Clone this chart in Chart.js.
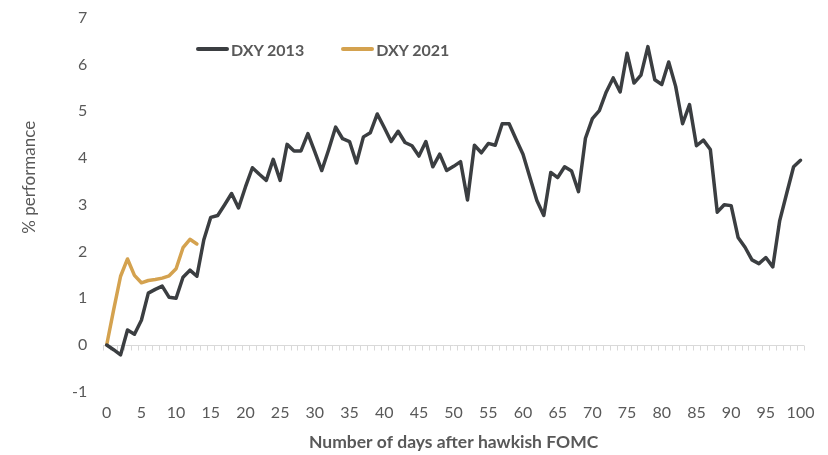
<!DOCTYPE html>
<html>
<head>
<meta charset="utf-8">
<script src="https://cdn.jsdelivr.net/npm/chart.js@4.4.1/dist/chart.umd.min.js"></script>
<style>
    body { margin: 0; background: #fff; overflow: hidden; }
    .wrap { position: relative; width: 828px; height: 455px; overflow: hidden; }
    #chart { position: absolute; top: -8px; left: 0; }
    .legend { position: absolute; top: 36px; left: 196px; font: bold 16px Lato, sans-serif; color: #595959; }
    .legend span { display: inline-block; vertical-align: middle; }
    .legend .swatch { width: 33px; height: 4px; border-radius: 2px; margin-right: 2px; }
    .legend .item { margin-right: 37px; }
</style>
</head>
<body>
<div class="wrap">
    <canvas id="chart" width="828" height="463"></canvas>
    <div class="legend" id="legend"></div>
</div>
<script>
// days after the hawkish FOMC meeting
var days = [];
for (var d = 0; d <= 100; d++) days.push(d);

var dxy2013 = [0, -0.1, -0.21, 0.32, 0.23, 0.53, 1.11, 1.19, 1.26, 1.02, 1.0,
    1.45, 1.6, 1.47, 2.25, 2.73, 2.77, 3.0, 3.24, 2.93, 3.38,
    3.79, 3.65, 3.52, 3.97, 3.52, 4.29, 4.15, 4.15, 4.52, 4.13,
    3.73, 4.18, 4.66, 4.41, 4.35, 3.89, 4.45, 4.54, 4.94, 4.65,
    4.35, 4.57, 4.33, 4.26, 4.04, 4.35, 3.81, 4.08, 3.73, 3.82,
    3.92, 3.10, 4.27, 4.11, 4.31, 4.27, 4.73, 4.73, 4.40, 4.08,
    3.58, 3.09, 2.77, 3.69, 3.58, 3.81, 3.72, 3.28, 4.42, 4.84,
    5.01, 5.41, 5.71, 5.41, 6.24, 5.60, 5.77, 6.38, 5.67, 5.57,
    6.05, 5.53, 4.73, 5.14, 4.26, 4.38, 4.18, 2.84, 3.0, 2.98,
    2.30, 2.09, 1.82, 1.74, 1.87, 1.67, 2.66, 3.24, 3.81, 3.95];

var dxy2021 = [0, 0.75, 1.47, 1.84, 1.49, 1.33, 1.38, 1.40, 1.43, 1.48, 1.63, 2.08, 2.26, 2.16];

var seriesNames = ["DXY 2013", "DXY 2021"];
var seriesColors = ["#3b3e41", "#d4a24f"];

var yMin = -1, yMax = 7, yStep = 1, xLabelStep = 5;
var yTitle = '% performance';

// zero line with small tick marks, like the excel category axis
var zeroAxis = {
    id: 'zeroAxis',
    beforeDatasetsDraw: function (chart) {
        var ctx = chart.ctx, x = chart.scales.x, y = chart.scales.y;
        var y0 = Math.round(y.getPixelForValue(0)) + 0.5;
        var half = (x.getPixelForValue(1) - x.getPixelForValue(0)) / 2;
        ctx.save();
        ctx.strokeStyle = '#d9d9d9';
        ctx.lineWidth = 1;
        ctx.beginPath();
        ctx.moveTo(chart.chartArea.left, y0);
        ctx.lineTo(chart.chartArea.right, y0);
        for (var i = 0; i <= days.length; i++) {
            var px = Math.round(x.getPixelForValue(0) - half + i * half * 2) + 0.5;
            ctx.moveTo(px, y0);
            ctx.lineTo(px, y0 + 5);
        }
        ctx.stroke();
        ctx.restore();
    }
};

// y title sits a bit higher than the plot middle in the original
var yTitlePlugin = {
    id: 'yTitle',
    afterDraw: function (chart) {
        var ctx = chart.ctx, y = chart.scales.y;
        var cy = (chart.chartArea.top + y.getPixelForValue(0)) / 2 - 4;
        ctx.save();
        ctx.translate(30, cy);
        ctx.rotate(-Math.PI / 2);
        ctx.fillStyle = '#595959';
        ctx.font = '17px Lato';
        ctx.textAlign = 'center';
        ctx.textBaseline = 'middle';
        ctx.fillText(yTitle, 0, 0);
        ctx.restore();
    }
};

var config = {
    type: 'line',
    data: {
        labels: days,
        datasets: [{
            label: seriesNames[0],
            data: dxy2013,
            borderColor: seriesColors[0],
            borderWidth: 3.5
        }, {
            label: seriesNames[1],
            data: dxy2021,
            borderColor: seriesColors[1],
            borderWidth: 3.5
        }]
    },
    options: {
        responsive: false,
        animation: false,
        layout: { padding: { left: 56, right: 24, top: 0, bottom: 2 } },
        elements: {
            point: { radius: 0 },
            line: { tension: 0, borderJoinStyle: 'round', borderCapStyle: 'round' }
        },
        plugins: {
            legend: { display: false },
            tooltip: { enabled: false }
        },
        scales: {
            x: {
                type: 'category',
                offset: true,
                border: { display: false },
                grid: { display: false, drawTicks: false },
                ticks: {
                    autoSkip: false,
                    maxRotation: 0,
                    padding: 11,
                    color: '#595959',
                    font: { family: 'Lato', size: 16 },
                    callback: function (val, i) {
                        return i % xLabelStep === 0 ? this.getLabelForValue(val) : '';
                    }
                },
                title: {
                    display: true,
                    text: 'Number of days after hawkish FOMC',
                    color: '#595959',
                    font: { family: 'Lato', size: 17.5, weight: 'bold' },
                    padding: { top: -1, bottom: 0 }
                }
            },
            y: {
                min: yMin,
                max: yMax,
                border: { display: false },
                grid: { display: false, drawTicks: false },
                ticks: {
                    stepSize: yStep,
                    padding: 16,
                    color: '#595959',
                    font: { family: 'Lato', size: 16 }
                }
            }
        }
    },
    plugins: [zeroAxis, yTitlePlugin]
};

var myChart = new Chart(document.getElementById('chart'), config);

// html legend placed inside the plot area, as in the original
var html = '';
for (var s = 0; s < seriesNames.length; s++) {
    html += '<span class="item"><span class="swatch" style="background:' + seriesColors[s] + '"></span>' +
        '<span>' + seriesNames[s] + '</span></span>';
}
document.getElementById('legend').innerHTML = html;
</script>
</body>
</html>
